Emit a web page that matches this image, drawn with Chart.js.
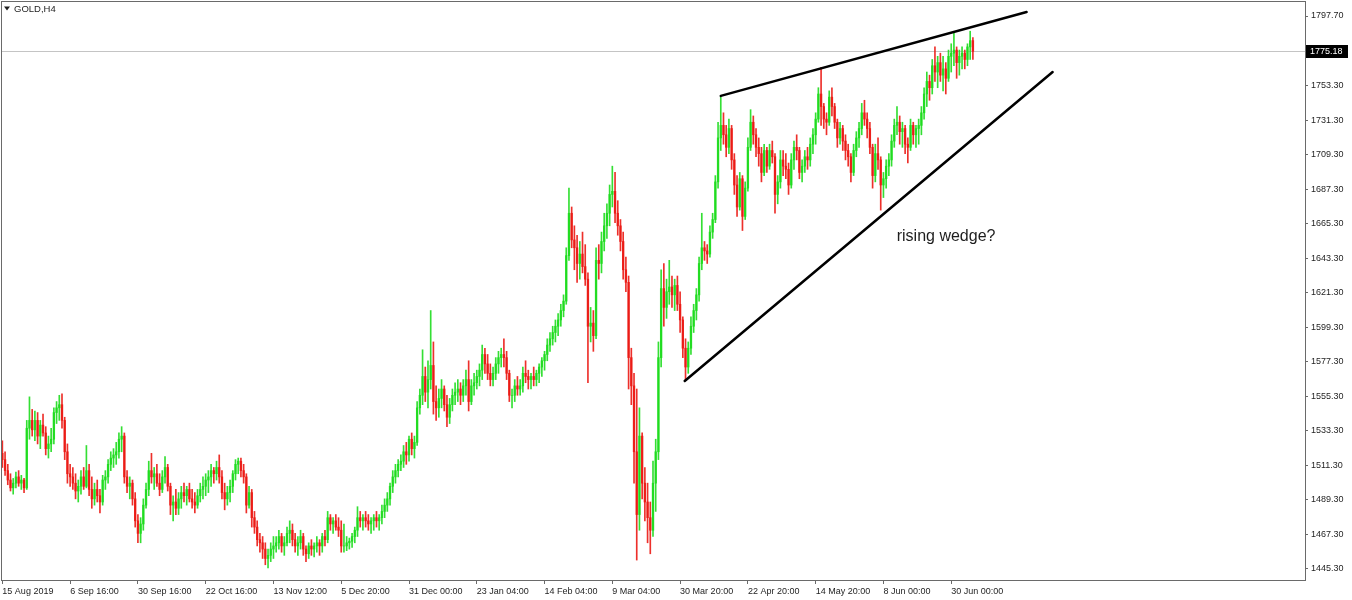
<!DOCTYPE html>
<html>
<head>
<meta charset="utf-8">
<title>GOLD,H4</title>
<script src="https://cdn.jsdelivr.net/npm/chart.js@4.4.1/dist/chart.umd.min.js"></script>
<style>
  html, body { margin: 0; padding: 0; background: #fff; }
  #chartBox { width: 1352px; height: 600px; }
</style>
</head>
<body>
<div id="chartBox"><canvas id="goldChart" width="1352" height="600"></canvas></div>
<script>
// Time axis labels, one every 25 candles
const timeLabels = ['15 Aug 2019', '6 Sep 16:00', '30 Sep 16:00', '22 Oct 16:00', '13 Nov 12:00',
    '5 Dec 20:00', '31 Dec 00:00', '23 Jan 04:00', '14 Feb 04:00', '9 Mar 04:00',
    '30 Mar 20:00', '22 Apr 20:00', '14 May 20:00', '8 Jun 00:00', '30 Jun 00:00'];
const labelStep = 25;
const slotCount = 481;

// Price axis ticks
const yTickValues = [1445.30, 1467.30, 1489.30, 1511.30, 1533.30, 1555.30, 1577.30, 1599.30,
    1621.30, 1643.30, 1665.30, 1687.30, 1709.30, 1731.30, 1753.30, 1797.70];
const lastPrice = 1775.18;
const firstOpen = 1519;

// Candles
const highs = [
    1527,1520,1512,1506,1503,1507,1508,1505,1503,1540,1555,1547,1546,1545,1540,1544,1536,1530,1535,1548,1552,1556,1557,1542,1525,1512,
    1510,1506,1502,1508,1510,1524,1512,1504,1500,1502,1496,1505,1508,1515,1520,1522,1526,1532,1536,1532,1508,1504,1502,1494,1480,
    1478,1490,1500,1514,1519,1510,1512,1506,1508,1517,1512,1500,1492,1496,1494,1498,1500,1498,1500,1496,1494,1496,1500,1504,1506,
    1508,1512,1510,1514,1518,1508,1500,1498,1502,1508,1515,1516,1516,1512,1506,1498,1496,1482,1476,1468,1466,1462,1458,1462,1466,
    1466,1470,1468,1466,1472,1476,1474,1468,1466,1470,1468,1460,1462,1464,1462,1466,1464,1468,1470,1482,1480,1478,1480,1478,1476,
    1474,1466,1465,1468,1472,1485,1482,1480,1482,1480,1478,1480,1482,1480,1486,1490,1494,1500,1508,1512,1515,1518,1524,1526,1530,
    1532,1530,1552,1560,1585,1574,1578,1610,1590,1562,1560,1566,1562,1556,1554,1560,1564,1566,1564,1566,1572,1578,1566,1570,1572,
    1576,1588,1586,1582,1576,1574,1580,1584,1586,1592,1584,1572,1560,1566,1568,1566,1574,1578,1572,1570,1574,1572,1576,1580,1584,
    1592,1596,1600,1604,1608,1614,1620,1650,1688,1676,1664,1658,1654,1660,1652,1634,1612,1610,1650,1652,1660,1672,1678,1690,1702,
    1698,1680,1668,1660,1644,1632,1586,1570,1560,1548,1532,1510,1500,1488,1514,1528,1590,1636,1640,1630,1642,1632,1630,1632,1622,
    1606,1592,1590,1606,1614,1624,1644,1672,1654,1652,1664,1672,1696,1730,1746,1736,1728,1732,1728,1710,1696,1698,1696,1692,1720,
    1738,1734,1726,1720,1714,1716,1714,1716,1718,1710,1696,1712,1712,1710,1704,1710,1718,1722,1714,1706,1712,1714,1720,1726,1736,
    1752,1765,1742,1736,1750,1752,1742,1732,1730,1728,1722,1716,1710,1716,1724,1730,1742,1744,1736,1730,1716,1716,1720,1708,1698,
    1706,1710,1722,1732,1740,1734,1730,1728,1720,1732,1730,1728,1732,1740,1752,1762,1760,1770,1778,1772,1774,1772,1768,1776,1780,
    1788,1778,1776,1778,1776,1780,1788,1784
];
const lows = [
    1510,1505,1499,1495,1493,1497,1498,1496,1494,1496,1528,1530,1527,1525,1522,1530,1518,1516,1520,1525,1538,1540,1535,1515,1500,1498,
    1496,1490,1488,1493,1496,1497,1492,1484,1486,1488,1481,1486,1496,1500,1508,1510,1512,1516,1520,1500,1494,1490,1486,1472,1462,
    1462,1470,1484,1492,1500,1496,1498,1492,1494,1500,1495,1480,1476,1480,1480,1484,1488,1486,1488,1484,1481,1484,1488,1490,1492,
    1494,1498,1500,1502,1500,1490,1483,1486,1488,1494,1502,1506,1504,1500,1481,1484,1472,1468,1460,1456,1452,1448,1446,1450,1452,
    1456,1458,1456,1454,1460,1462,1460,1456,1454,1458,1454,1450,1452,1454,1453,1456,1454,1456,1460,1462,1470,1468,1470,1466,1456,
    1456,1457,1458,1459,1462,1466,1472,1470,1472,1470,1468,1470,1472,1470,1474,1478,1482,1486,1494,1500,1504,1508,1510,1512,1514,
    1518,1516,1524,1544,1550,1552,1548,1560,1544,1540,1542,1548,1546,1536,1538,1546,1550,1552,1550,1552,1556,1546,1550,1556,1560,
    1562,1566,1570,1566,1562,1562,1566,1570,1574,1574,1566,1552,1548,1552,1556,1556,1558,1564,1560,1560,1562,1562,1564,1568,1572,
    1578,1584,1588,1590,1594,1600,1606,1614,1642,1650,1636,1628,1630,1634,1626,1564,1590,1584,1592,1630,1634,1648,1656,1664,1676,
    1666,1658,1648,1630,1622,1560,1550,1500,1451,1470,1490,1476,1462,1455,1466,1482,1515,1574,1600,1605,1614,1612,1610,1610,1596,
    1580,1566,1570,1582,1596,1604,1616,1636,1642,1640,1644,1656,1666,1688,1712,1716,1708,1710,1700,1684,1670,1674,1661,1668,1686,
    1712,1716,1708,1702,1692,1696,1698,1700,1704,1672,1678,1688,1696,1694,1684,1688,1700,1706,1694,1692,1698,1700,1702,1710,1716,
    1730,1728,1726,1722,1728,1734,1726,1714,1716,1712,1706,1702,1692,1696,1708,1714,1722,1728,1720,1710,1688,1692,1700,1674,1682,
    1688,1696,1702,1714,1722,1716,1714,1710,1704,1712,1716,1714,1716,1722,1732,1740,1744,1748,1756,1752,1756,1750,1748,1756,1762,
    1766,1758,1760,1764,1764,1766,1770,1770
];
const closes = [
    1515,1508,1502,1497,1500,1504,1500,1502,1497,1535,1540,1534,1540,1530,1537,1532,1522,1525,1528,1545,1548,1550,1540,1520,1506,1504,
    1500,1495,1498,1504,1498,1508,1496,1490,1496,1492,1488,1502,1504,1512,1516,1518,1520,1528,1530,1504,1498,1500,1490,1476,1468,
    1474,1486,1496,1508,1504,1506,1500,1496,1504,1510,1498,1486,1488,1484,1490,1494,1492,1496,1490,1488,1486,1492,1496,1498,1502,
    1504,1508,1506,1510,1504,1494,1490,1494,1498,1506,1512,1514,1508,1504,1486,1494,1478,1472,1464,1462,1458,1452,1454,1458,1460,
    1462,1466,1460,1462,1468,1470,1464,1460,1462,1466,1458,1455,1460,1458,1460,1462,1460,1466,1464,1478,1474,1476,1472,1470,1460,
    1460,1462,1463,1466,1470,1478,1476,1478,1476,1474,1476,1478,1476,1478,1482,1486,1490,1498,1504,1508,1512,1514,1520,1518,1528,
    1522,1526,1548,1556,1568,1558,1566,1575,1552,1548,1554,1560,1550,1542,1550,1556,1558,1560,1556,1562,1566,1552,1562,1564,1568,
    1572,1582,1576,1570,1566,1570,1576,1580,1582,1580,1570,1556,1556,1562,1560,1562,1570,1568,1566,1568,1566,1570,1574,1578,1582,
    1588,1592,1596,1600,1604,1610,1616,1645,1672,1655,1650,1640,1646,1638,1630,1600,1602,1594,1642,1640,1654,1664,1672,1684,1686,
    1672,1664,1654,1636,1628,1580,1562,1520,1480,1530,1500,1488,1478,1470,1500,1520,1580,1624,1612,1622,1625,1620,1626,1614,1604,
    1586,1574,1586,1600,1610,1620,1640,1650,1648,1646,1660,1668,1692,1720,1728,1722,1714,1726,1706,1690,1676,1694,1670,1688,1714,
    1730,1722,1714,1710,1698,1712,1702,1712,1708,1684,1692,1706,1702,1700,1690,1706,1714,1712,1698,1702,1708,1706,1716,1722,1732,
    1748,1740,1732,1730,1746,1740,1730,1720,1726,1718,1712,1708,1698,1712,1720,1726,1736,1732,1726,1714,1696,1710,1706,1690,1694,
    1702,1706,1718,1728,1730,1724,1726,1716,1714,1728,1722,1726,1728,1736,1748,1756,1752,1766,1762,1768,1760,1764,1758,1772,1774,
    1776,1768,1772,1774,1770,1778,1782,1775.18
];

// Drawn trendlines: [candle index, price]
const wedgeUpper = [[265, 1746.8], [377.8, 1800.2]];
const wedgeLower = [[251.7, 1565.1], [387.4, 1762.0]];
const noteText = 'rising wedge?';
const notePos = [329.9, 1656.9];

const upColor = 'rgba(30, 220, 30, 0.9)';
const downColor = 'rgba(235, 25, 20, 0.9)';
const frameColor = '#6a6a6a';
const textColor = '#1e1e1e';

Chart.defaults.font.family = '"Liberation Sans", Arial, sans-serif';
Chart.defaults.font.size = 9;

const slots = Array.from({ length: slotCount }, (_, i) => String(i));
const opens = closes.map((c, i) => i === 0 ? firstOpen : closes[i - 1]);
const candleColors = closes.map((c, i) => c >= opens[i] ? upColor : downColor);

function isLabelSlot(i) {
    return i % labelStep === 0 && i / labelStep < timeLabels.length;
}

// Frame, price line, trendlines, note and symbol title
const overlay = {
    id: 'overlay',
    beforeDatasetsDraw(chart) {
        const { ctx, chartArea: a, scales: { y } } = chart;
        const py = Math.round(y.getPixelForValue(lastPrice)) + 0.5;
        ctx.save();
        ctx.strokeStyle = '#c4c4c4';
        ctx.lineWidth = 1;
        ctx.beginPath();
        ctx.moveTo(a.left, py);
        ctx.lineTo(a.right, py);
        ctx.stroke();
        ctx.restore();
    },
    afterDraw(chart) {
        const { ctx, chartArea: a, scales: { x, y } } = chart;
        ctx.save();

        // frame
        ctx.strokeStyle = frameColor;
        ctx.lineWidth = 1;
        ctx.strokeRect(a.left + 0.5, a.top + 0.5, a.right - a.left, a.bottom - a.top);

        // wedge lines
        ctx.beginPath();
        ctx.rect(a.left, a.top, a.right - a.left, a.bottom - a.top);
        ctx.clip();
        ctx.strokeStyle = '#000';
        ctx.lineWidth = 2.5;
        ctx.lineCap = 'round';
        [wedgeUpper, wedgeLower].forEach(line => {
            ctx.beginPath();
            ctx.moveTo(x.getPixelForValue(line[0][0]), y.getPixelForValue(line[0][1]));
            ctx.lineTo(x.getPixelForValue(line[1][0]), y.getPixelForValue(line[1][1]));
            ctx.stroke();
        });

        // note
        ctx.fillStyle = textColor;
        ctx.font = '16px "Liberation Sans", Arial, sans-serif';
        ctx.textAlign = 'left';
        ctx.textBaseline = 'middle';
        ctx.fillText(noteText, x.getPixelForValue(notePos[0]), y.getPixelForValue(notePos[1]));

        // title
        ctx.beginPath();
        ctx.moveTo(a.left + 3, a.top + 5.5);
        ctx.lineTo(a.left + 9, a.top + 5.5);
        ctx.lineTo(a.left + 6, a.top + 9.5);
        ctx.closePath();
        ctx.fill();
        ctx.font = '9.5px "Liberation Sans", Arial, sans-serif';
        ctx.fillText('GOLD,H4', a.left + 13, a.top + 8);
        ctx.restore();

        // last price tag
        const py = Math.round(y.getPixelForValue(lastPrice));
        ctx.save();
        ctx.fillStyle = '#000';
        ctx.fillRect(a.right + 1, py - 6, 42, 13);
        ctx.fillStyle = '#fff';
        ctx.font = '9px "Liberation Sans", Arial, sans-serif';
        ctx.textBaseline = 'middle';
        ctx.fillText(lastPrice.toFixed(2), a.right + 5, py + 0.5);
        ctx.restore();
    }
};

new Chart(document.getElementById('goldChart'), {
    type: 'bar',
    data: {
        labels: slots,
        datasets: [{
            label: 'range',
            data: lows.map((l, i) => [l, highs[i]]),
            backgroundColor: candleColors,
            barThickness: 1,
            grouped: false,
            borderWidth: 0,
            order: 2
        }, {
            label: 'body',
            data: opens.map((o, i) => [o, closes[i]]),
            backgroundColor: candleColors,
            barThickness: 1.7,
            grouped: false,
            borderWidth: 0,
            order: 1
        }]
    },
    options: {
        responsive: false,
        animation: false,
        layout: { padding: { left: 1, top: 1, right: 0, bottom: 0 } },
        plugins: {
            legend: { display: false },
            tooltip: { enabled: false }
        },
        scales: {
            x: {
                offset: true,
                border: { display: false },
                grid: {
                    offset: false,
                    drawOnChartArea: false,
                    tickLength: 4,
                    color: c => isLabelSlot(c.index) ? frameColor : 'rgba(0,0,0,0)'
                },
                ticks: {
                    autoSkip: false,
                    maxRotation: 0,
                    minRotation: 0,
                    align: 'start',
                    padding: 2,
                    color: textColor,
                    callback: (v, i) => isLabelSlot(i) ? timeLabels[i / labelStep] : ''
                },
                afterFit: s => { s.height = 20; s.paddingLeft = 0; s.paddingRight = 0; }
            },
            y: {
                position: 'right',
                min: 1438.29,
                max: 1807.26,
                border: { display: false },
                afterBuildTicks: s => { s.ticks = yTickValues.map(v => ({ value: v })); },
                grid: { drawOnChartArea: false, tickLength: 3, color: frameColor },
                ticks: {
                    padding: 3,
                    color: textColor,
                    callback: v => v.toFixed(2)
                },
                afterFit: s => { s.width = 47; s.paddingTop = 0; s.paddingBottom = 0; }
            }
        }
    },
    plugins: [overlay]
});
</script>
</body>
</html>
